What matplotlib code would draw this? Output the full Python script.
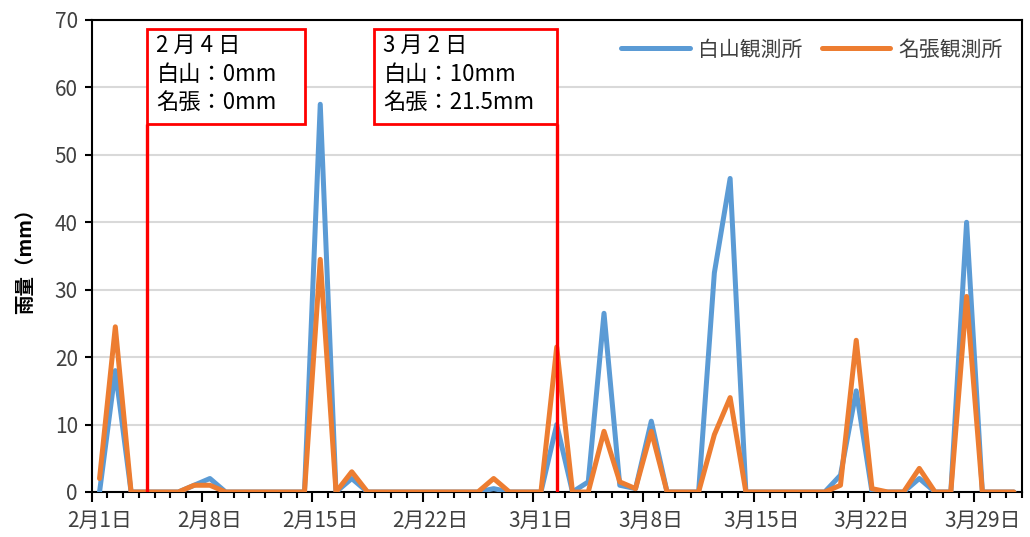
import matplotlib
matplotlib.use("Agg")
import matplotlib.pyplot as plt
from matplotlib.patches import Rectangle
from matplotlib.ticker import FixedLocator, NullFormatter

plt.rcParams['font.family'] = ['Noto Sans CJK JP', 'DejaVu Sans']

# Daily rainfall, 2/1 .. 3/31 (mm)
dates = [f"2月{d}日" for d in range(1, 29)] + [f"3月{d}日" for d in range(1, 32)]
hakusan = [0, 18, 0, 0, 0, 0, 1, 2, 0, 0,
           0, 0, 0, 0, 57.5, 0, 2, 0, 0, 0,
           0, 0, 0, 0, 0, 0.5, 0, 0, 0, 10,
           0, 1.5, 26.5, 1, 0.5, 10.5, 0, 0, 0, 32.5,
           46.5, 0, 0, 0, 0, 0, 0, 2.5, 15, 0,
           0, 0, 2, 0, 0, 40, 0, 0, 0]
nabari = [2, 24.5, 0, 0, 0, 0, 1, 1, 0, 0,
          0, 0, 0, 0, 34.5, 0, 3, 0, 0, 0,
          0, 0, 0, 0, 0, 2, 0, 0, 0, 21.5,
          0, 0, 9, 1.5, 0.5, 9, 0, 0, 0, 8.5,
          14, 0, 0, 0, 0, 0, 0, 1, 22.5, 0.5,
          0, 0, 3.5, 0, 0, 29, 0, 0, 0]
series_names = ["白山観測所", "名張観測所"]
label_step = 7
yticks = [0, 10, 20, 30, 40, 50, 60, 70]

# Highlighted days
highlights = [
    ("2 月 4 日", "2月4日"),
    ("3 月 2 日", "3月2日"),
]

BLUE = "#5B9BD5"
ORANGE = "#ED7D31"
RED = "#FF0000"
TICK_COLOR = "#404040"

fig = plt.figure(figsize=(10.30, 5.37), dpi=100)
ax = fig.add_axes([0.089, 0.0838, 0.903, 0.879])

x = list(range(len(dates)))
line_kw = dict(lw=3.6, solid_joinstyle="round", solid_capstyle="round")
ax.plot(x, hakusan, color=BLUE, label=series_names[0], zorder=3, **line_kw)
ax.plot(x, nabari, color=ORANGE, label=series_names[1], zorder=4, **line_kw)

ax.set_xlim(-0.5, len(dates) - 0.5)
ax.set_ylim(0, 70)
ax.set_yticks(yticks)
ax.grid(False, axis="x", which="both")
ax.grid(True, axis="y", which="major", color="#D9D9D9", lw=1.5, zorder=0)
ax.set_axisbelow(True)

for side in ["left", "bottom", "top", "right"]:
    ax.spines[side].set_color("black")
    ax.spines[side].set_linewidth(1.5)

ax.tick_params(axis="y", direction="out", length=5, width=1.5, color="black",
               labelsize=15, labelcolor=TICK_COLOR, pad=5)

# Category boundaries: short ticks every day, long ticks every week
bounds = [i - 0.5 for i in range(len(dates) + 1)]
ax.xaxis.set_minor_locator(FixedLocator(bounds))
ax.xaxis.set_major_locator(FixedLocator(bounds[::label_step]))
ax.xaxis.set_major_formatter(NullFormatter())
ax.tick_params(axis="x", which="major", direction="out", length=7, width=1.5, color="black")
ax.tick_params(axis="x", which="minor", direction="out", length=4.5, width=1.5, color="black")

# Week labels centred on their day
sec = ax.secondary_xaxis("bottom")
sec.set_xticks(x[::label_step], [dates[i] for i in x[::label_step]])
sec.tick_params(length=0, pad=13, labelsize=15, labelcolor=TICK_COLOR)
sec.spines["bottom"].set_visible(False)
sec.grid(False)

ax.set_ylabel("雨量（mm）", fontsize=14, fontweight="bold", labelpad=14)

# Annotation boxes with marker lines
def day_text(idx, head):
    return f"{head}\n白山：{hakusan[idx]:g}mm\n名張：{nabari[idx]:g}mm"

box_specs = [
    # (date index, box left, box right)
    (dates.index(highlights[0][1]), 0.0, 10.05),
    (dates.index(highlights[1][1]), -11.6, 0.0),
]
box_bottom, box_top = 54.5, 68.7
for (idx, dl, dr), (head, _) in zip(box_specs, highlights):
    ax.plot([idx, idx], [0, box_bottom], color=RED, lw=2.4, zorder=6,
            solid_capstyle="butt")
    rect = Rectangle((idx + dl, box_bottom), dr - dl, box_top - box_bottom,
                     fill=True, facecolor="white", edgecolor=RED, lw=2.0, zorder=7)
    ax.add_patch(rect)
    ax.text(idx + dl + 0.6, box_top - 0.8, day_text(idx, head), fontsize=16,
            va="top", ha="left", linespacing=1.3, color="black", zorder=8)

leg = ax.legend(loc="upper right", bbox_to_anchor=(1.0, 1.0), frameon=False,
                fontsize=15, handlelength=3.3, handletextpad=0.4,
                columnspacing=0.9, ncol=2, borderaxespad=0.5)
for t in leg.get_texts():
    t.set_color(TICK_COLOR)

fig.savefig("out.png", dpi=100)
